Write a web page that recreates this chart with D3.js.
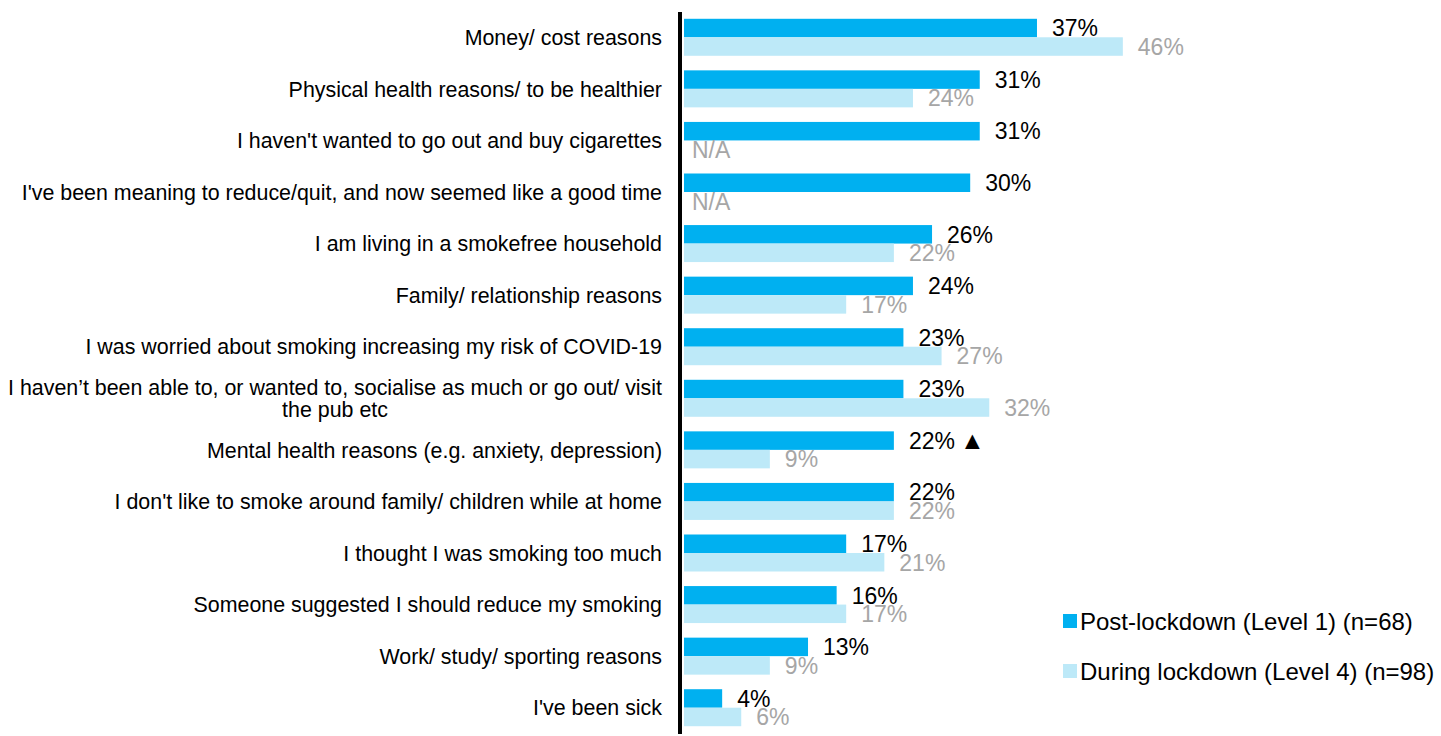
<!DOCTYPE html>
<html><head><meta charset="utf-8">
<script src="https://cdn.jsdelivr.net/npm/d3@7"></script>
<style>body{margin:0;background:#fff}svg{display:block;font-family:"Liberation Sans",Arial,sans-serif}</style>
</head><body><svg id="c" width="1441" height="736"></svg>
<script>
const categories = [
  "Money/ cost reasons",
  "Physical health reasons/ to be healthier",
  "I haven't wanted to go out and buy cigarettes",
  "I've been meaning to reduce/quit, and now seemed like a good time",
  "I am living in a smokefree household",
  "Family/ relationship reasons",
  "I was worried about smoking increasing my risk of COVID-19",
  "I haven\u2019t been able to, or wanted to, socialise as much or go out/ visit|the pub etc",
  "Mental health reasons (e.g. anxiety, depression)",
  "I don't like to smoke around family/ children while at home",
  "I thought I was smoking too much",
  "Someone suggested I should reduce my smoking",
  "Work/ study/ sporting reasons",
  "I've been sick"
];
const postLockdown = [37,31,31,30,26,24,23,23,22,22,17,16,13,4];
const duringLockdown = [46,24,null,null,22,17,27,32,9,22,21,17,9,6];
const significant = [false,false,false,false,false,false,false,false,true,false,false,false,false,false];
const seriesNames = ["Post-lockdown (Level 1) (n=68)","During lockdown (Level 4) (n=98)"];
const colors = ["#00B0F0","#BDE9F8"];
const labelColors = ["#000000","#A6A6A6"];

const svg = d3.select("#c");
const x = d3.scaleLinear().domain([0,50]).range([684, 684+9.54*50]);
const y = d3.scaleBand().domain(categories).range([11.5,733.5]);
const barH = 18.5;
const fs = 21.4;
const vfs = 23;

categories.forEach((c,i)=>{
  const cy = y(c) + y.bandwidth()/2;
  const vals = [postLockdown[i], duringLockdown[i]];
  vals.forEach((v,k)=>{
    const top = cy - barH + k*barH;
    if (v != null) {
      svg.append("rect").attr("x", x(0)).attr("y", top)
        .attr("width", x(v)-x(0)).attr("height", barH).attr("fill", colors[k]);
    }
    const t = svg.append("text")
      .attr("x", v != null ? x(v)+15 : x(0)+8)
      .attr("y", top + barH/2).attr("dy","0.36em")
      .attr("font-size", vfs).attr("fill", labelColors[k])
      .text(v != null ? v + "%" : "N/A");
    if (v != null && k===0 && significant[i]) {
      t.append("tspan").attr("font-size", 25).attr("dx", 5).text("\u25B2");
    }
  });
  const lines = c.split("|");
  const right = 662;
  const g = svg.append("g");
  let firstW = null;
  lines.forEach((ln,j)=>{
    const ty = cy + (j - (lines.length-1)/2)*22;
    const t = g.append("text").attr("font-size",fs).attr("fill","#000").attr("dy","0.36em").attr("y", ty).text(ln);
    if (j === 0) {
      t.attr("text-anchor","end").attr("x", right);
      firstW = t.node().getComputedTextLength();
    } else {
      t.attr("text-anchor","middle").attr("x", right - firstW/2);
    }
  });
});

// axis line
svg.append("line").attr("x1",680).attr("x2",680).attr("y1",12).attr("y2",734)
  .attr("stroke","#000").attr("stroke-width",4);

// legend
seriesNames.forEach((n,k)=>{
  const ly = 621 + k*50;
  svg.append("rect").attr("x",1063).attr("y",ly-7).attr("width",14).attr("height",14).attr("fill",colors[k]);
  svg.append("text").attr("x",1080).attr("y",ly).attr("dy","0.36em").attr("font-size",24).attr("fill","#000").text(n);
});
</script></body></html>
